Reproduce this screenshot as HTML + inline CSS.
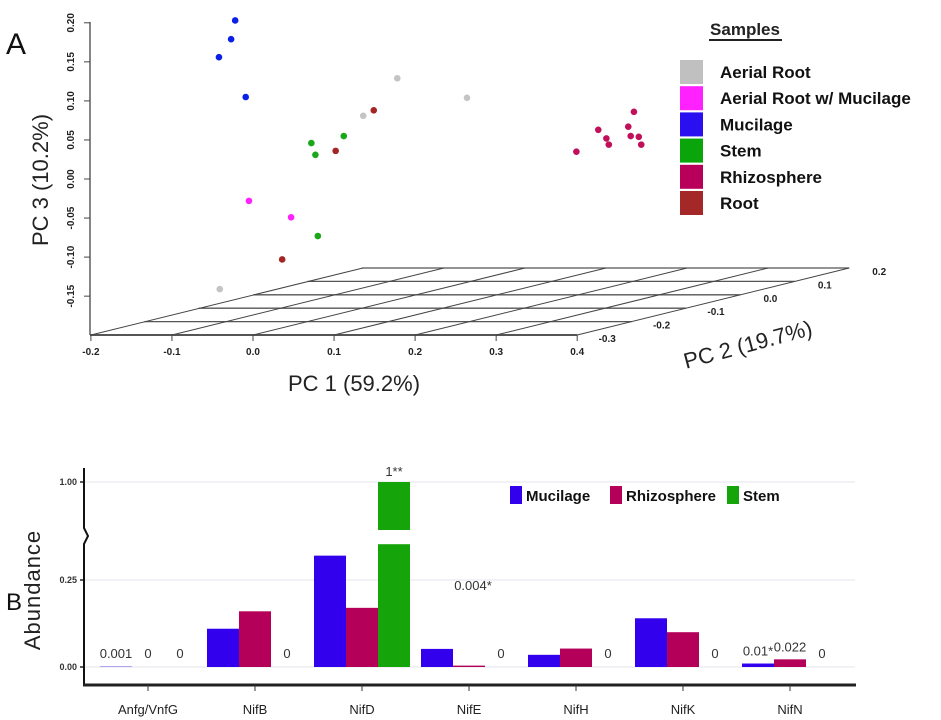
<!DOCTYPE html>
<html><head><meta charset="utf-8"><style>
body{margin:0;background:#fff;}
svg{display:block;font-family:"Liberation Sans",sans-serif;}
</style></head><body>
<svg width="941" height="720" viewBox="0 0 941 720">
<g id="pca"></g>
<g id="bars"></g>
</svg>
<script>
const NS='http://www.w3.org/2000/svg';
function mk(p,tag,attrs,txt){const e=document.createElementNS(NS,tag);for(const k in attrs)e.setAttribute(k,attrs[k]);if(txt!==undefined)e.textContent=txt;p.appendChild(e);return e;}

// ---------- PCA data ----------
const groups=['Aerial Root','Aerial Root w/ Mucilage','Mucilage','Stem','Rhizosphere','Root'];
const groupColors=['#c0c0c0','#ff22ff','#2a10f0','#0aa50a','#b8005a','#a52828'];
const pointColors=['#c4c4c4','#ff22ff','#0a1fe8','#1aa71a','#c0105a','#a52525'];
const aerialPC1=[0.178,0.264,0.136,-0.041];
const aerialPC3=[0.129,0.104,0.081,-0.141];
const aerialMucPC1=[-0.005,0.047];
const aerialMucPC3=[-0.028,-0.049];
const mucilagePC1=[-0.022,-0.027,-0.042,-0.009];
const mucilagePC3=[0.203,0.179,0.156,0.105];
const stemPC1=[0.072,0.112,0.077,0.080];
const stemPC3=[0.046,0.055,0.031,-0.073];
const rhizoPC1=[0.399,0.426,0.436,0.439,0.463,0.470,0.466,0.476,0.479];
const rhizoPC3=[0.035,0.063,0.052,0.044,0.067,0.086,0.055,0.054,0.044];
const rootPC1=[0.149,0.102,0.036];
const rootPC3=[0.088,0.036,-0.103];
const pc1Ticks=['-0.2','-0.1','0.0','0.1','0.2','0.3','0.4'];
const pc2Ticks=['-0.3','-0.2','-0.1','0.0','0.1','0.2'];
const pc3Ticks=['0.20','0.15','0.10','0.05','0.00','-0.05','-0.10','-0.15'];

const px=v=>253+v*810.5;
const py=v=>179-v*781;
const P=document.getElementById('pca');
mk(P,'text',{x:6,y:54,'font-size':30,fill:'#111',},'A');
mk(P,'line',{x1:90,y1:22,x2:90,y2:335,stroke:'#444','stroke-width':1.3,});
pc3Ticks.forEach(t=>{const y=py(parseFloat(t));
 mk(P,'line',{x1:84,y1:y,x2:90,y2:y,stroke:'#444',});
 mk(P,'text',{x:74,y:y,'font-size':10,'font-weight':'bold','text-anchor':'middle',transform:`rotate(-90 74 ${y})`,fill:'#222',},t);});
const dx=272,dy=-67,nY=5;
for(let i=0;i<=nY;i++){const f=i/nY;const ox=dx*f,oy=dy*f;
 mk(P,'line',{x1:90+ox,y1:335+oy,x2:px(0.4)+ox,y2:335+oy,stroke:'#555','stroke-width':i==0?2:1.3,});}
pc1Ticks.forEach(t=>{const x=px(parseFloat(t));
 mk(P,'line',{x1:x,y1:335,x2:x+dx,y2:335+dy,stroke:'#444','stroke-width':1,});
 mk(P,'line',{x1:x,y1:335,x2:x,y2:341,stroke:'#444',});
 mk(P,'text',{x:x,y:355,'font-size':10,'font-weight':'bold','text-anchor':'middle',fill:'#222',},t);});
pc2Ticks.forEach((t,i)=>{const f=i/nY;const x=px(0.4)+dx*f,y=335+dy*f;
 mk(P,'text',{x:x+30,y:y+7,'font-size':10,'font-weight':'bold','text-anchor':'middle',fill:'#222',},t);});
mk(P,'text',{x:354,y:391,'font-size':22,'text-anchor':'middle',fill:'#222',},'PC 1 (59.2%)');
mk(P,'text',{x:48,y:180,'font-size':22,'text-anchor':'middle',transform:'rotate(-90 48 180)',fill:'#222',},'PC 3 (10.2%)');
mk(P,'text',{x:748,y:352,'font-size':22,'text-anchor':'middle',transform:'rotate(-15 748 345)',fill:'#222',},'PC 2 (19.7%)');
const series=[[aerialPC1,aerialPC3],[aerialMucPC1,aerialMucPC3],[mucilagePC1,mucilagePC3],[stemPC1,stemPC3],[rhizoPC1,rhizoPC3],[rootPC1,rootPC3]];
series.forEach((s,g)=>{s[0].forEach((v,i)=>{
 const c=mk(P,'circle',{cx:px(v),cy:py(s[1][i]),r:3.3,fill:pointColors[g]});
 
 });});
mk(P,'text',{x:745,y:35,'font-size':17,'font-weight':'bold','text-anchor':'middle',fill:'#222',},'Samples');
mk(P,'line',{x1:709,y1:40,x2:782,y2:40,stroke:'#222','stroke-width':2,});
groups.forEach((g,i)=>{const y=72+i*26.2;
 const r=mk(P,'rect',{x:680,y:y-12,width:23,height:24,fill:groupColors[i]});
 
 const t=mk(P,'text',{x:720,y:y+6,'font-size':17,'font-weight':'bold',fill:'#111'},g);
 });

// ---------- Bar data ----------
const genes=['Anfg/VnfG','NifB','NifD','NifE','NifH','NifK','NifN'];
const mucilage=[0.001,0.11,0.32,0.052,0.035,0.14,0.01];
const rhizosphere=[0,0.16,0.17,0.004,0.053,0.10,0.022];
const stem=[0,0,1,0,0,0,0];
const labelsMuc=['0.001','','','','','','0.01*'];
const labelsRhizo=['0','','','0.004*','','','0.022'];
const labelsStem=['0','0','1**','0','0','0','0'];
const barColors=['#3300ee','#b5005a','#15a50a'];
const yTicks=['0.00','0.25','1.00'];

const B=document.getElementById('bars');
const y0=667,k=348,breakLo=0.35,top1=482,breakHi=530;
function by(v){ if(v<=breakLo) return y0-v*k; return top1+(1-v)/(1-0.36)*(breakHi-top1); }
const cx=i=>148+i*107;
mk(B,'text',{x:6,y:610,'font-size':24,fill:'#111',},'B');
yTicks.forEach(t=>{const y=by(parseFloat(t));
 mk(B,'line',{x1:85,y1:y,x2:855,y2:y,stroke:'#e6e6ee','stroke-width':1,});
 mk(B,'line',{x1:80,y1:y,x2:85,y2:y,stroke:'#222','stroke-width':1.5,});
 mk(B,'text',{x:77,y:y+3,'font-size':9,'font-weight':'bold','text-anchor':'end',fill:'#333',},t);});
mk(B,'path',{d:'M84 468 L84 528 L88 536 L84 544 L84 686',fill:'none',stroke:'#111','stroke-width':2,});
mk(B,'line',{x1:83,y1:685,x2:856,y2:685,stroke:'#222','stroke-width':3,});
mk(B,'text',{x:40,y:590,'font-size':22,'text-anchor':'middle',transform:'rotate(-90 40 590)',fill:'#222','letter-spacing':'1',},'Abundance');
const all=[mucilage,rhizosphere,stem], labs=[labelsMuc,labelsRhizo,labelsStem];
genes.forEach((g,i)=>{const c=cx(i);
 mk(B,'line',{x1:c,y1:685,x2:c,y2:691,stroke:'#333',});
 mk(B,'text',{x:c,y:714,'font-size':13,'text-anchor':'middle',fill:'#222',},g);
 all.forEach((s,j)=>{const v=s[i];const x=c-48+j*32;
  if(v>breakLo){
   const r1=mk(B,'rect',{x:x,y:by(breakLo)-1,width:32,height:y0-by(breakLo)+1,fill:barColors[j]});
   
   const r2=mk(B,'rect',{x:x,y:by(v),width:32,height:breakHi-by(v),fill:barColors[j]});
   
  } else if(v>0){
   const r=mk(B,'rect',{x:x,y:by(v),width:32,height:y0-by(v),fill:barColors[j]});
   
  }
  const L=labs[j][i];
  if(L){const ly=(v>breakLo)?by(v)-6:(L.indexOf('*')>=0&&j==1&&i==3?590:Math.min(by(v)-8,658));
   const t=mk(B,'text',{x:x+16+(j==1&&i==3?4:0),y:ly,'font-size':13,'text-anchor':'middle',fill:'#333'},L);
   }
 });});
const legNames=['Mucilage','Rhizosphere','Stem'],legX=[510,610,727];
legNames.forEach((n,i)=>{
 const r=mk(B,'rect',{x:legX[i],y:486,width:12,height:18,fill:barColors[i]});
 
 const t=mk(B,'text',{x:legX[i]+16,y:501,'font-size':15,'font-weight':'bold',fill:'#111'},n);
 });
</script>
</body></html>
